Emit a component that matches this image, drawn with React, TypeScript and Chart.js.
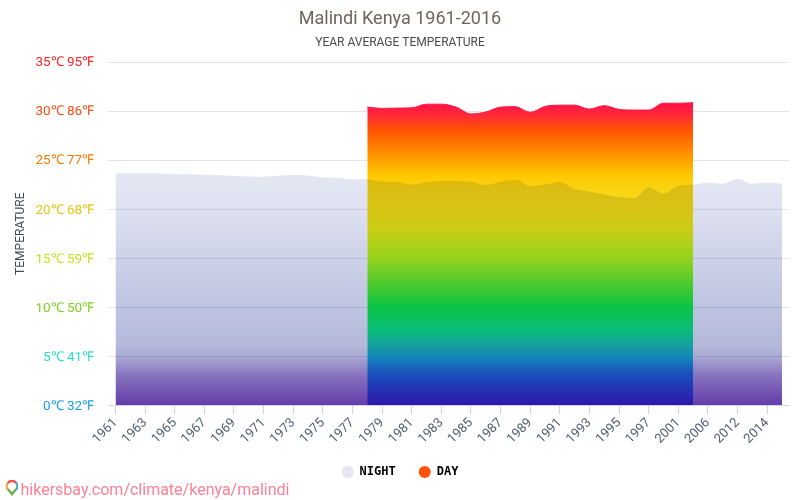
import React, { useEffect, useRef } from "react";
import { Chart, registerables } from "chart.js";

Chart.register(...registerables);

const categories = ["1961","1962","1963","1964","1965","1966","1967","1968","1969","1970","1971","1972","1973","1974","1975","1976","1977","1978","1979","1980","1981","1982","1983","1984","1985","1986","1987","1988","1989","1990","1991","1992","1993","1994","1995","1996","1997","1999","2001","2005","2006","2007","2012","2013","2014","2016"];
const nightValues = [23.67,23.67,23.67,23.64,23.58,23.55,23.5,23.47,23.37,23.33,23.3,23.4,23.47,23.44,23.24,23.2,23.03,23.07,22.8,22.8,22.5,22.75,22.88,22.88,22.8,22.45,22.8,23.0,22.35,22.5,22.77,22.05,21.8,21.5,21.2,21.1,22.2,21.6,22.35,22.5,22.7,22.6,23.1,22.6,22.7,22.6];
const dayValues = [null,null,null,null,null,null,null,null,null,null,null,null,null,null,null,null,null,30.4,30.27,30.3,30.33,30.7,30.7,30.4,29.7,29.9,30.4,30.45,29.87,30.47,30.6,30.6,30.2,30.55,30.17,30.1,30.1,30.8,30.8,30.85,null,null,null,null,null,null];
const yTicks = [0,5,10,15,20,25,30,35];
const yTickColors = ["#1a9ee8","#2de0c8","#7ed321","#c6e020","#e8c510","#ff7a00","#ff4a10","#ff2020"];

// The night area multiplies over the day area, so day colours under the night line are brightened to compensate.
const dayStops: [number, string][] = [
  [0, "#ff1744"],[0.13,"#ff1744"],[0.155,"#ff2a38"],[0.2,"#ff5500"],[0.26,"#ff8a00"],[0.33,"#ffc800"],[0.373,"#f8d415"],[0.428,"#f9dc15"],[0.49,"#edf116"],[0.571,"#bbff21"],[0.665,"#4efd38"],[0.714,"#0dff4f"],[0.781,"#0eff8b"],[0.825,"#1cdcba"],[0.868,"#20c8e8"],[0.927,"#38a0ff"],[1,"#736aff"],
];
const nightStops: [number, string][] = [
  [0,"#e4e6f3"],[0.33,"#e4e6f3"],[0.43,"#dee1f0"],[0.57,"#cdd2e8"],[0.71,"#bec5e1"],[0.825,"#b4b9da"],[0.857,"#aaaad4"],[0.913,"#8773be"],[1,"#643caa"],
];

function gradient(ctx: any, stops: [number, string][]) {
  const { chart } = ctx;
  const a = chart.chartArea;
  if (!a) return stops[0][1];
  const g = chart.ctx.createLinearGradient(0, a.top, 0, a.bottom);
  stops.forEach(([o, c]) => g.addColorStop(o, c));
  return g;
}

const blendPlugin = {
  id: "blend",
  afterDatasetDraw(chart: any, args: any) {
    chart.ctx.globalCompositeOperation = args.index === 1 ? "multiply" : "source-over";
  },
};

export default function App() {
  const ref = useRef<HTMLCanvasElement>(null);
  useEffect(() => {
    const chart = new Chart(ref.current!, {
      type: "line",
      plugins: [blendPlugin],
      data: {
        labels: categories,
        datasets: [
          { label: "NIGHT", data: nightValues, order: 1, fill: "origin", tension: 0.4, cubicInterpolationMode: "monotone", borderWidth: 0, backgroundColor: (c: any) => gradient(c, nightStops), pointRadius: 0 },
          { label: "DAY", data: dayValues, order: 2, fill: "origin", tension: 0.4, cubicInterpolationMode: "monotone", borderWidth: 1, borderColor: "#ff1744", backgroundColor: (c: any) => gradient(c, dayStops), pointRadius: 0, spanGaps: false },
        ],
      } as any,
      options: {
        responsive: false,
        animation: false,
        layout: { padding: { left: 10.6, right: 10.6, top: 0, bottom: 12 } },
        scales: {
          x: {
            type: "category",
            offset: true,
            grid: { drawOnChartArea: false, drawTicks: true, tickLength: 9, offset: false,
              tickColor: (c: any) => (c.index % 2 === 0 ? "#cfd3e6" : "transparent") },
            border: { color: "#d4d6e8" },
            ticks: { autoSkip: false, maxRotation: 45, minRotation: 45, font: { family: "Roboto", size: 13 }, color: "#4f5d70", padding: 1,
              callback: (_v: any, i: number) => (i % 2 === 0 ? categories[i] : "") },
            afterFit: (s: any) => { s.height = 37.7; },
          },
          y: {
            min: 0, max: 35,
            afterBuildTicks: (s: any) => { s.ticks = yTicks.map((value) => ({ value })); },
            afterFit: (s: any) => { s.width = 97.5; },
            grid: { color: "rgba(90,90,120,0.16)", tickLength: 0 },
            border: { display: false },
            ticks: { font: { family: "Roboto", size: 13.5 }, padding: 14, labelOffset: 1,
              color: (c: any) => yTickColors[yTicks.indexOf(c.tick.value)],
              callback: (v: any) => `${v}℃ ${Math.round(v * 9 / 5 + 32)}℉` },
            title: { display: true, text: "TEMPERATURE", color: "#444b55", font: { family: "Roboto", size: 12 }, padding: { top: 3, bottom: 0 } },
          },
        },
        plugins: {
          title: { display: true, text: "Malindi Kenya 1961-2016", color: "#6f655c", font: { family: "Roboto", size: 18, weight: "normal" }, padding: { top: 8.2, bottom: 6 } },
          subtitle: { display: true, text: "YEAR AVERAGE TEMPERATURE", color: "#4a4a4a", font: { family: "Roboto", size: 12, weight: "normal" }, padding: { top: 0, bottom: 11.8 } },
          legend: { position: "bottom", labels: { usePointStyle: true, pointStyle: "circle", boxWidth: 12, boxHeight: 8.5, padding: 23, color: "#4a4a55", font: { family: "DejaVu Sans Mono", size: 12, weight: "bold" },
            generateLabels: () => [
              { text: "NIGHT", fillStyle: "#e6e6f3", strokeStyle: "#e6e6f3", lineWidth: 0, pointStyle: "circle", datasetIndex: 0 },
              { text: "DAY", fillStyle: "#ff5107", strokeStyle: "#ff5107", lineWidth: 0, pointStyle: "circle", datasetIndex: 1 },
            ] } },
          tooltip: { enabled: false },
        },
      } as any,
    });
    return () => chart.destroy();
  }, []);
  return (
    <div style={{ position: "absolute", left: 0, top: 0, width: 800, height: 500 }}>
      <canvas ref={ref} width={800} height={500} style={{ display: "block" }} />
      <div style={{ position: "absolute", left: 6, top: 480, fontFamily: "Roboto", fontSize: 16, color: "#ff7f96", whiteSpace: "nowrap", lineHeight: "20px" }}>
        <svg width="12" height="17" viewBox="0 0 13 17" style={{ verticalAlign: "-2px", marginRight: 2.5 }}>
          <path d="M4 13 L6.5 16.5 L9 13 Z" fill="#5f6b7a" />
          <path d="M2 9.5A5.5 5.5 0 0 1 2 2.5" fill="none" stroke="#f4a62a" strokeWidth="2.6" />
          <path d="M2 2.5A5.5 5.5 0 0 1 11 2.5" fill="none" stroke="#ef5350" strokeWidth="2.6" />
          <path d="M11 2.5A5.5 5.5 0 0 1 11 9.5" fill="none" stroke="#4aa3df" strokeWidth="2.6" />
          <path d="M11 9.5L6.5 14L2 9.5" fill="none" stroke="#6fb04a" strokeWidth="2.6" />
        </svg>
        hikersbay.com/climate/kenya/malindi
      </div>
    </div>
  );
}
